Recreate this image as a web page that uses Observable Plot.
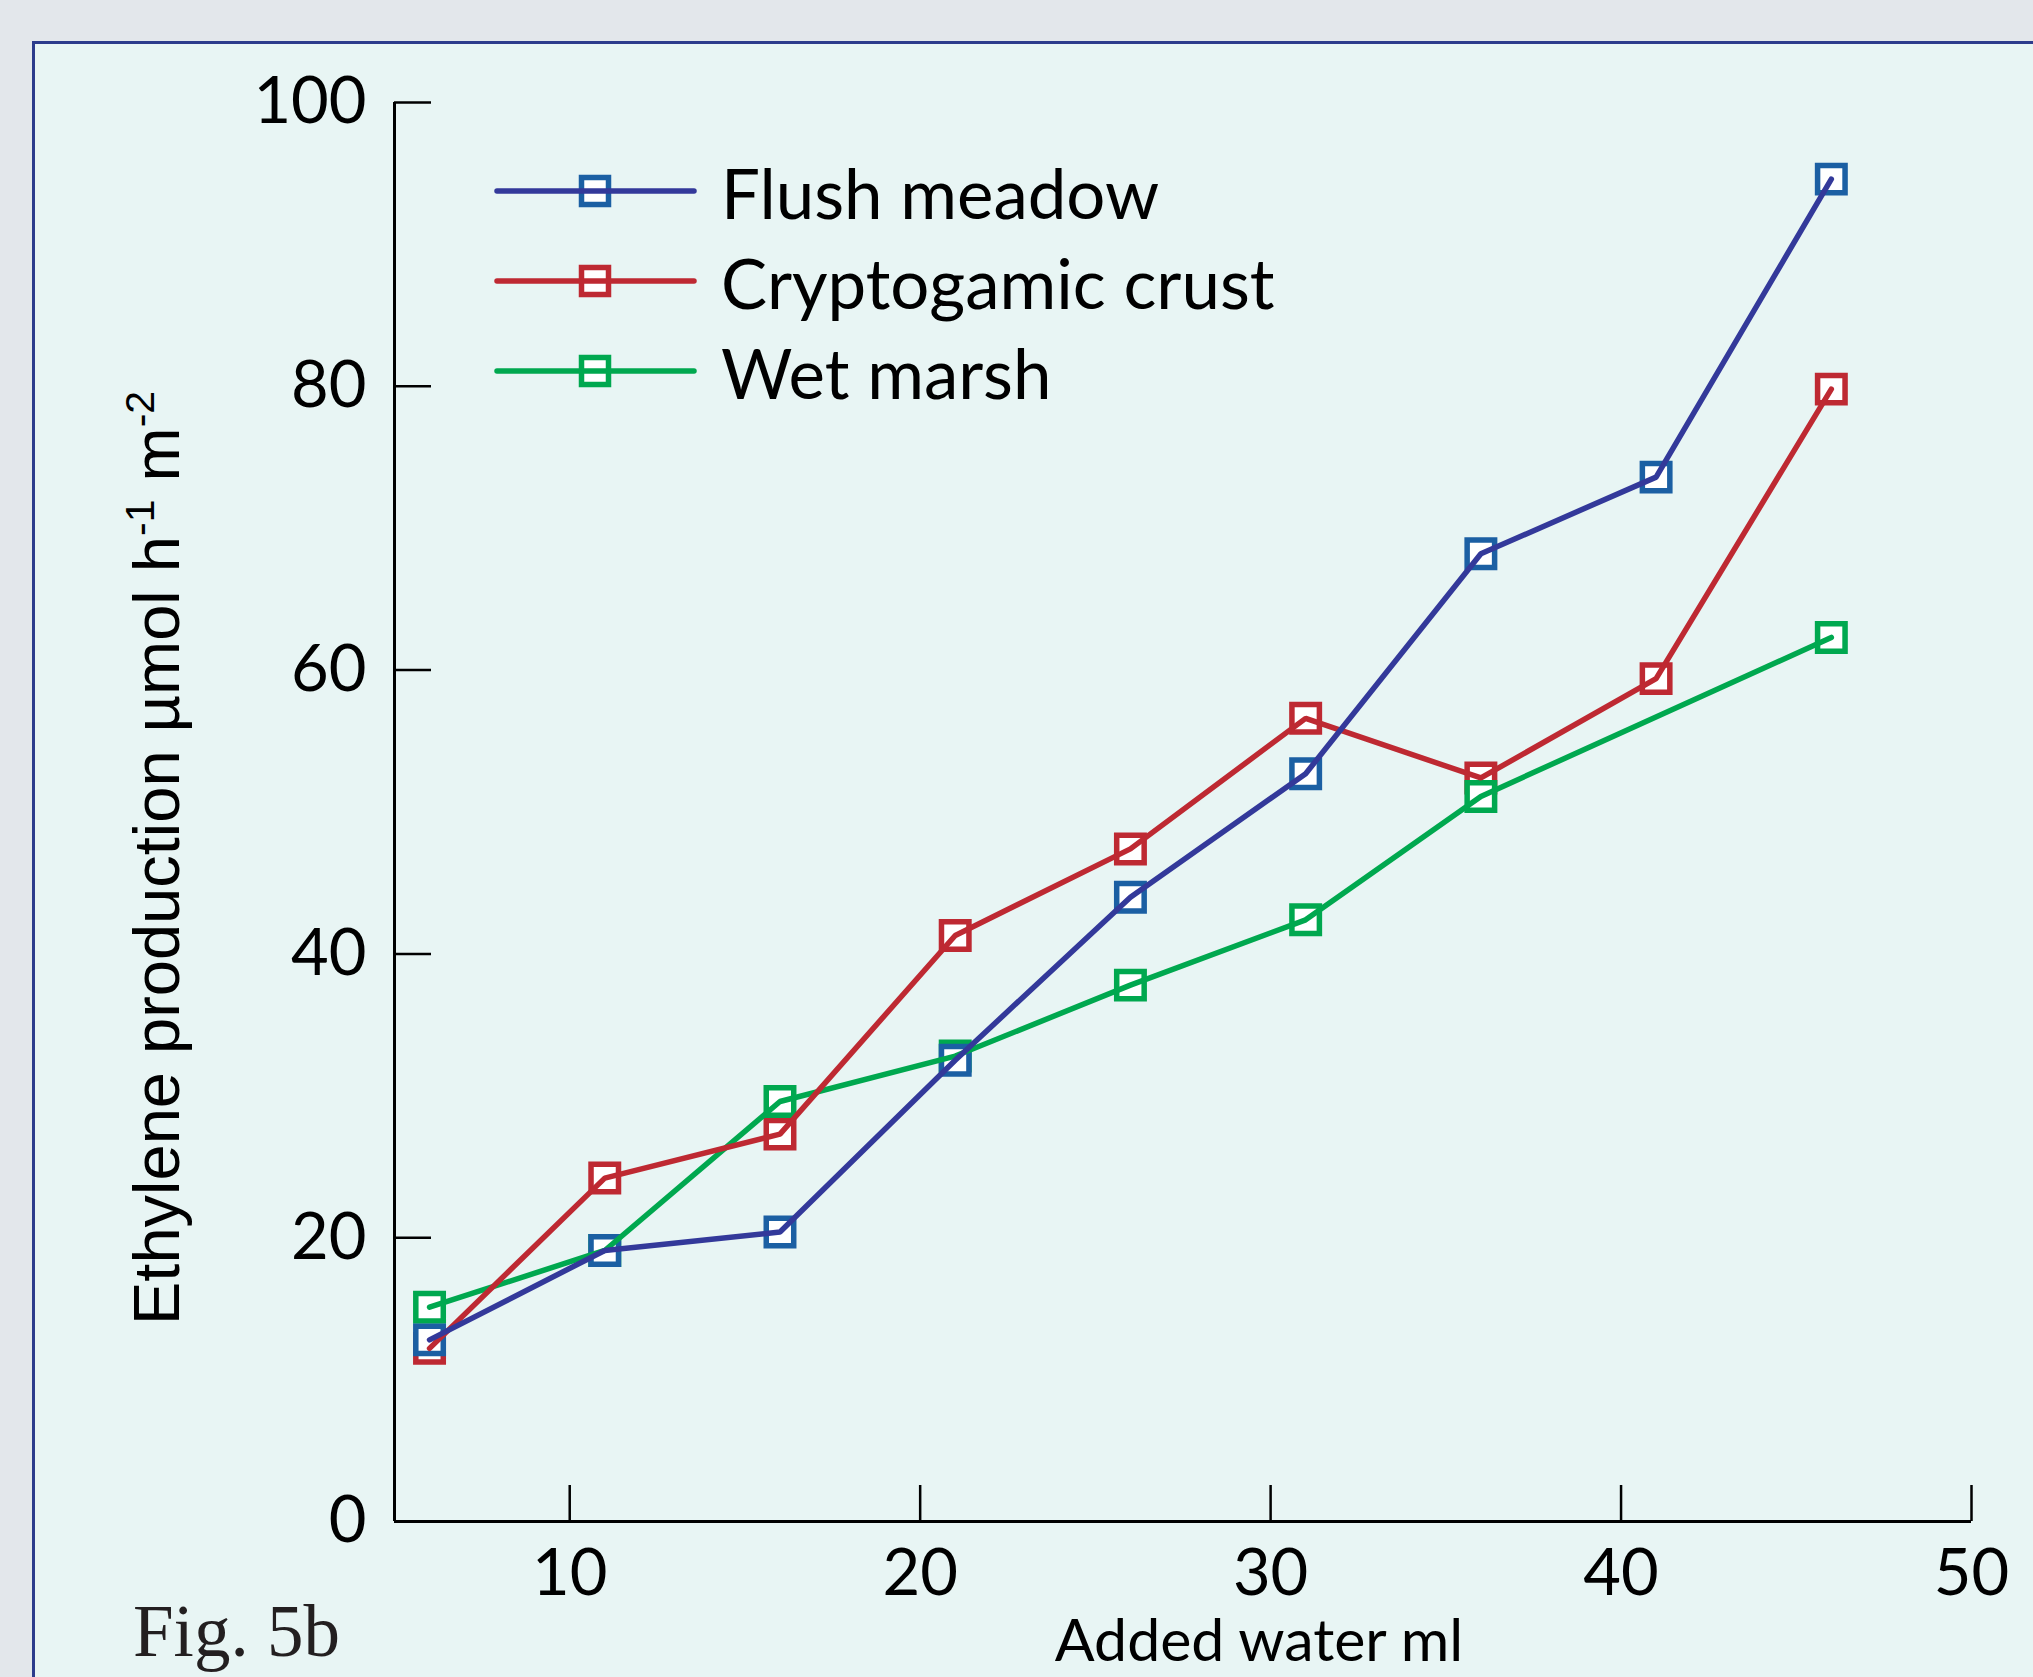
<!DOCTYPE html>
<html>
<head>
<meta charset="utf-8">
<script src="https://cdn.jsdelivr.net/npm/d3@7"></script>
<script src="https://cdn.jsdelivr.net/npm/@observablehq/plot@0.6"></script>
<style>
  html, body { margin: 0; padding: 0; background: #e3e7eb; overflow: hidden; }
  #wrap { position: relative; width: 2033px; height: 1677px; overflow: hidden; }
  #panel { position: absolute; left: 32px; top: 41px; width: 2100px; height: 1700px;
           background: #e8f5f4; border-left: 3px solid #2c3c8c; border-top: 3px solid #2c3c8c; }
  #chart > svg, #overlay { position: absolute; left: 0; top: 0; overflow: visible; }
</style>
</head>
<body>
<div id="wrap">
  <div id="panel"></div>
  <div id="chart"></div>
  <svg id="overlay" width="2033" height="1677"></svg>
</div>
<script>
// ---- data ----
const addedWater = [6, 11, 16, 21, 26, 31, 36, 41, 46];
const flushMeadow = [12.8, 19.1, 20.4, 32.5, 44.0, 52.7, 68.2, 73.6, 94.6];
const cryptogamicCrust = [12.2, 24.2, 27.3, 41.3, 47.4, 56.6, 52.4, 59.4, 79.8];
const wetMarsh = [15.1, 19.1, 29.6, 32.8, 37.8, 42.4, 51.1, null, 62.3];
const seriesNames = ["Flush meadow", "Cryptogamic crust", "Wet marsh"];
const yTicks = [0, 20, 40, 60, 80, 100];
const xTicks = [10, 20, 30, 40, 50];
const xLabel = "Added water ml";
const figLabel = "Fig. 5b";

// ---- styles ----
const styles = {
  "Flush meadow": {line: "#33399a", marker: "#1b5fa3"},
  "Cryptogamic crust": {line: "#be2932", marker: "#be2932"},
  "Wet marsh": {line: "#00a84f", marker: "#00a84f"}
};
const valuesByName = {
  "Flush meadow": flushMeadow,
  "Cryptogamic crust": cryptogamicCrust,
  "Wet marsh": wetMarsh
};

const rows = seriesNames.flatMap(name =>
  addedWater.map((x, i) => ({series: name, x, y: valuesByName[name][i]}))
    .filter(d => d.y != null));
const of = name => rows.filter(d => d.series === name);

const markerOrder = ["Cryptogamic crust", "Wet marsh", "Flush meadow"];
const lineOrder = ["Wet marsh", "Cryptogamic crust", "Flush meadow"];

const W = 2033, H = 1677;
const tickFont = "Lato, 'Open Sans', sans-serif";

const chart = Plot.plot({
  width: W, height: H,
  marginLeft: 394, marginRight: 62, marginTop: 102, marginBottom: 156,
  x: {domain: [5, 50], axis: null},
  y: {domain: [0, 100], axis: null},
  style: {background: "transparent", fontFamily: tickFont, overflow: "visible", color: "#000"},
  marks: [
    // inward ticks only
    Plot.axisY(yTicks, {anchor: "left", tickSize: -37, fill: "none", strokeWidth: 2.5, stroke: "#000", label: null}),
    Plot.axisX(xTicks, {anchor: "bottom", tickSize: -36, fill: "none", strokeWidth: 2.5, stroke: "#000", label: null}),
    // tick labels only
    Plot.axisY(yTicks, {anchor: "left", tickSize: 0, tickPadding: 28, fontSize: 65, fill: "#000", label: null}),
    Plot.axisX(xTicks, {anchor: "bottom", tickSize: 0, tickPadding: 27, fontSize: 65, fill: "#000", label: null}),
    Plot.ruleY([0], {stroke: "#000", strokeWidth: 3}),
    Plot.ruleX([5], {stroke: "#000", strokeWidth: 3}),
    ...markerOrder.map(name => Plot.dot(of(name), {
      x: "x", y: "y", symbol: "square", r: 15.5, fill: "#ffffff",
      stroke: styles[name].marker, strokeWidth: 5.5
    })),
    ...lineOrder.map(name => Plot.line(of(name), {
      x: "x", y: "y", stroke: styles[name].line, strokeWidth: 5.5,
      strokeLinecap: "round", strokeLinejoin: "miter"
    }))
  ]
});
document.getElementById("chart").appendChild(chart);

// ---- overlay: legend, axis titles, figure label ----
const ns = "http://www.w3.org/2000/svg";
const ov = document.getElementById("overlay");
function el(tag, attrs, parent) {
  const e = document.createElementNS(ns, tag);
  for (const k in attrs) e.setAttribute(k, attrs[k]);
  (parent || ov).appendChild(e);
  return e;
}

// legend
const legendRowY = [191, 281, 371];
seriesNames.forEach((name, i) => {
  const y = legendRowY[i];
  const s = 27;
  el("rect", {x: 595 - s / 2, y: y - s / 2, width: s, height: s, fill: "#ffffff",
              stroke: styles[name].marker, "stroke-width": 5.5});
  el("line", {x1: 497, x2: 694, y1: y, y2: y, stroke: styles[name].line,
              "stroke-width": 5.5, "stroke-linecap": "round"});
  const t = el("text", {x: 721, y: y + 28, "font-family": tickFont, "font-size": 69, fill: "#000"});
  t.textContent = name;
});

// y axis title (with superscripts)
const yt = el("text", {transform: "translate(179,1325) rotate(-90)",
  "font-family": "'Liberation Sans', Arial, sans-serif", "font-size": 65, fill: "#000"});
const parts = [
  ["Ethylene production µmol h", 0, 65],
  ["-1", -25, 41],
  [" m", 25, 65],
  ["-2", -25, 41]
];
parts.forEach(([txt, dy, fs]) => {
  const ts = el("tspan", {dy: dy, "font-size": fs}, yt);
  ts.textContent = txt;
});

// x axis title
const xt = el("text", {x: 1259, y: 1661, "text-anchor": "middle", "font-family": tickFont,
  "font-size": 59, fill: "#000"});
xt.textContent = xLabel;

// figure label
const fg = el("text", {x: 133, y: 1656, "font-family": "'Liberation Serif', 'Times New Roman', serif",
  "font-size": 73, fill: "#231f20"});
fg.textContent = figLabel;
</script>
</body>
</html>
